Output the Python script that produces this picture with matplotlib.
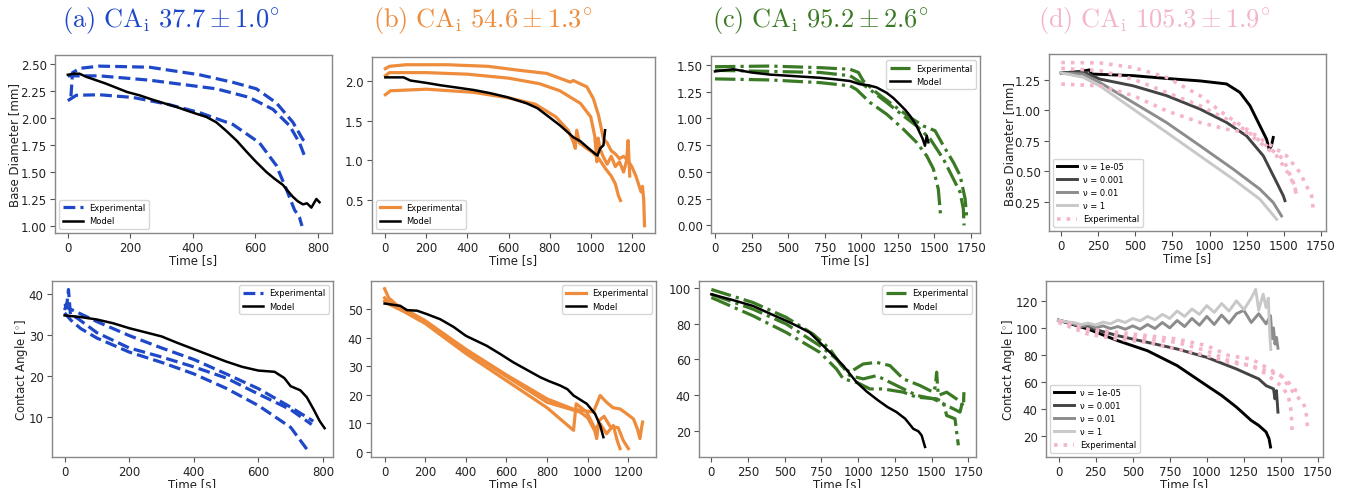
import matplotlib
matplotlib.use("Agg")
import matplotlib.pyplot as plt

plt.rcParams['mathtext.fontset'] = 'cm'
plt.rcParams['font.family'] = ['DejaVu Sans']

# ---- colours per panel
blue = '#1f48c8'
orange = '#ee8c3b'
green = '#3b7a25'
pink = '#f4b5c8'

titles = [r"$\mathrm{(a)\ CA_{i}\ 37.7 \pm 1.0^{\circ}}$",
          r"$\mathrm{(b)\ CA_{i}\ 54.6 \pm 1.3^{\circ}}$",
          r"$\mathrm{(c)\ CA_{i}\ 95.2 \pm 2.6^{\circ}}$",
          r"$\mathrm{(d)\ CA_{i}\ 105.3 \pm 1.9^{\circ}}$"]
title_colors = [blue, orange, green, pink]

# ---- (a) base diameter
a_t_exp1 = [10, 15, 40, 101, 261, 421, 528, 603, 667, 720, 752, 768]
a_d_exp1 = [2.20, 2.42, 2.46, 2.48, 2.47, 2.40, 2.33, 2.27, 2.14, 1.96, 1.80, 1.76]
a_t_exp2 = [0, 101, 261, 368, 475, 581, 656, 709, 741, 757]
a_d_exp2 = [2.39, 2.39, 2.35, 2.31, 2.27, 2.19, 2.08, 1.93, 1.77, 1.65]
a_t_exp3 = [0, 27, 101, 208, 315, 421, 528, 613, 667, 699, 725, 741, 749]
a_d_exp3 = [2.16, 2.21, 2.215, 2.19, 2.13, 2.05, 1.94, 1.77, 1.56, 1.34, 1.15, 1.08, 1.00]
a_t_model = [0, 20, 37, 60, 80, 120, 155, 190, 229, 270, 315, 350, 379, 410, 443, 475, 507, 540, 571, 600,
             635, 660, 688, 705, 720, 735, 752, 765, 779, 795, 805]
a_d_model = [2.40, 2.41, 2.41, 2.38, 2.36, 2.32, 2.28, 2.24, 2.21, 2.17, 2.13, 2.10, 2.07, 2.04, 2.01, 1.96,
             1.88, 1.79, 1.69, 1.60, 1.50, 1.44, 1.38, 1.32, 1.27, 1.23, 1.20, 1.21, 1.17, 1.25, 1.22]

# ---- (a) contact angle
a_t_ca1 = [0, 10, 30, 100, 200, 300, 400, 500, 600, 700, 770]
a_ca1 = [37.5, 36.5, 35.8, 33.2, 29.8, 26.8, 24.0, 20.5, 16.9, 12.4, 9.0]
a_t_ca2 = [0, 8, 12, 18, 40, 100, 200, 300, 400, 500, 600, 700, 765]
a_ca2 = [36, 38, 41, 35, 34, 30.5, 26.8, 24.6, 22.2, 19.5, 15.6, 11.8, 8.2]
a_t_ca3 = [0, 20, 50, 100, 200, 300, 400, 500, 600, 700, 750]
a_ca3 = [35.3, 33.5, 31.5, 29.2, 25.8, 23.3, 20.5, 17.0, 12.8, 7.5, 2.2]
a_t_cam = [0, 50, 100, 150, 200, 250, 300, 350, 400, 450, 500, 550, 600, 650, 680, 700, 730, 750, 770, 790, 805]
a_cam = [34.7, 34.3, 33.7, 32.8, 31.6, 30.6, 29.6, 28.0, 26.5, 25.0, 23.5, 22.2, 21.3, 21.0, 19.5, 17.5, 16.5, 14.8, 12.0, 9.0, 7.3]

# ---- (b) base diameter
b_t_exp1 = [0, 20, 100, 300, 500, 650, 786, 900, 915, 981, 1013, 1038, 1062, 1080, 1100, 1120, 1140, 1160, 1180, 1200, 1220, 1235, 1245, 1252, 1258, 1262]
b_d_exp1 = [2.16, 2.19, 2.21, 2.21, 2.19, 2.14, 2.10, 1.99, 2.01, 1.93, 1.78, 1.57, 1.27, 1.22, 1.12, 1.08, 1.02, 1.05, 1.00, 0.92, 0.80, 0.68, 0.60, 0.67, 0.50, 0.17]
b_t_exp2 = [0, 20, 200, 400, 600, 750, 850, 950, 1000, 1020, 1030, 1036, 1045, 1060, 1080, 1100, 1120, 1140, 1160, 1175, 1182, 1190]
b_d_exp2 = [2.07, 2.11, 2.11, 2.09, 2.04, 1.97, 1.88, 1.72, 1.55, 1.30, 0.98, 1.28, 1.15, 1.05, 0.95, 1.05, 0.92, 0.98, 0.85, 1.00, 1.25, 0.80]
b_t_exp3 = [0, 25, 200, 430, 600, 730, 830, 890, 916, 925, 932, 945, 980, 1010, 1040, 1070, 1100, 1120, 1135, 1145]
b_d_exp3 = [1.83, 1.88, 1.90, 1.86, 1.79, 1.71, 1.55, 1.38, 1.23, 1.15, 1.38, 1.22, 1.15, 1.10, 1.02, 0.90, 0.80, 0.70, 0.55, 0.49]
b_t_model = [0, 89, 122, 200, 268, 350, 430, 510, 592, 640, 689, 740, 786, 851, 916, 950, 981, 1022, 1033, 1046, 1062, 1070]
b_d_model = [2.05, 2.05, 2.01, 1.98, 1.95, 1.92, 1.89, 1.85, 1.80, 1.76, 1.72, 1.66, 1.57, 1.44, 1.29, 1.24, 1.17, 1.08, 1.06, 1.15, 1.19, 1.38]

# ---- (b) contact angle
b_t_ca1 = [0, 20, 60, 100, 200, 400, 600, 800, 930, 1028, 1061, 1093, 1125, 1159, 1190, 1225, 1245, 1257, 1265, 1270]
b_ca1 = [57.2, 54, 51.5, 50, 46, 36, 27, 18.6, 15, 14, 19.8, 17.4, 15.5, 15.1, 13.5, 11.6, 8, 4.7, 8.5, 10.5]
b_t_ca2 = [0, 30, 100, 200, 400, 600, 800, 962, 1000, 1030, 1061, 1093, 1126, 1145, 1159]
b_ca2 = [54, 52, 49.5, 45.5, 35.5, 26.5, 17.4, 14, 12, 8, 9.9, 6.4, 9.3, 4, 1.2]
b_t_ca3 = [0, 30, 100, 200, 400, 600, 800, 930, 943, 995, 1028, 1044, 1055, 1080, 1110, 1150, 1175, 1200]
b_ca3 = [52.9, 51.5, 49, 45, 34.5, 25, 15.5, 7.6, 16.9, 14, 9.3, 4.7, 11, 12.5, 9, 8.5, 4, 1.2]
b_t_cam = [0, 77, 110, 160, 208, 274, 340, 400, 450, 503, 570, 634, 700, 766, 810, 864, 900, 930, 995, 1036, 1061, 1077]
b_cam = [52, 51.2, 49.7, 49.5, 48.3, 46.5, 43.8, 40.7, 39.0, 37.2, 34.3, 31.4, 28.8, 26.2, 24.8, 23.3, 22.0, 19.8, 16.9, 13.4, 9.3, 5.2]

# ---- (c) base diameter
c_t_exp1 = [0, 376, 718, 923, 980, 1014, 1105, 1242, 1333, 1424, 1504, 1561, 1629, 1675, 1709, 1720]
c_d_exp1 = [1.484, 1.49, 1.475, 1.46, 1.43, 1.35, 1.24, 1.10, 1.01, 0.93, 0.885, 0.745, 0.59, 0.466, 0.25, 0.08]
c_t_exp2 = [0, 376, 718, 923, 991, 1059, 1173, 1287, 1378, 1470, 1561, 1629, 1675, 1697, 1702]
c_d_exp2 = [1.45, 1.44, 1.43, 1.40, 1.34, 1.27, 1.15, 1.025, 0.93, 0.81, 0.62, 0.435, 0.31, 0.155, 0.0]
c_t_exp3 = [0, 376, 718, 923, 968, 1059, 1173, 1287, 1378, 1447, 1492, 1526, 1542]
c_d_exp3 = [1.37, 1.36, 1.335, 1.305, 1.27, 1.15, 1.04, 0.90, 0.776, 0.65, 0.53, 0.34, 0.09]
c_t_model = [0, 125, 250, 376, 550, 718, 830, 923, 991, 1050, 1105, 1173, 1220, 1264, 1300, 1333, 1378, 1419, 1435, 1447, 1458]
c_d_model = [1.44, 1.46, 1.43, 1.41, 1.395, 1.38, 1.365, 1.35, 1.32, 1.31, 1.29, 1.24, 1.19, 1.13, 1.08, 1.025, 0.93, 0.81, 0.745, 0.84, 0.777]

# ---- (c) contact angle
c_t_ca1 = [0, 284, 511, 693, 807, 886, 943, 1034, 1125, 1216, 1307, 1420, 1511, 1525, 1534, 1545, 1602, 1670, 1716, 1720]
c_ca1 = [99, 91.7, 83.4, 74.1, 65.8, 56.6, 52.9, 57.5, 58.4, 56.6, 49.2, 45.5, 41.8, 45, 52.9, 40, 41.8, 38, 34.4, 41.8]
c_t_ca2 = [0, 284, 511, 738, 852, 943, 1034, 1125, 1261, 1398, 1511, 1602, 1693, 1716, 1722]
c_ca2 = [96.3, 88, 79.7, 67.7, 60.3, 51, 49.2, 51, 45.5, 40, 38.1, 34.4, 30.7, 38.1, 34]
c_t_ca3 = [0, 284, 511, 738, 852, 898, 989, 1080, 1170, 1307, 1398, 1534, 1580, 1602, 1659, 1670, 1682]
c_ca3 = [94.5, 84.3, 75, 64, 54.7, 49.2, 47.3, 43.6, 43.6, 41.8, 39, 38.1, 36.2, 28.8, 27, 19.6, 12.2]
c_t_cam = [0, 150, 284, 400, 511, 600, 670, 773, 840, 898, 989, 1060, 1136, 1200, 1261, 1320, 1375, 1410, 1432, 1455]
c_cam = [96.3, 93.0, 89.8, 85.5, 81.5, 78.0, 75, 66.7, 61.5, 56.6, 47.3, 42.0, 37.2, 33.5, 30.7, 27.0, 21.4, 20.0, 17.7, 11.3]

# ---- (d) base diameter, model for several nu
nu_labels = ['ν = 1e-05', 'ν = 0.001', 'ν = 0.01', 'ν = 1']
nu_colors = ['#000000', '#444444', '#8c8c8c', '#c8c8c8']
d_t_nu1 = [0, 124, 191, 203, 484, 709, 935, 1115, 1205, 1273, 1340, 1385, 1403, 1418, 1430]
d_d_nu1 = [1.305, 1.316, 1.33, 1.296, 1.283, 1.26, 1.24, 1.215, 1.146, 1.037, 0.873, 0.763, 0.68, 0.71, 0.777]
d_t_nu2 = [0, 146, 259, 484, 709, 935, 1115, 1250, 1363, 1453, 1498, 1509]
d_d_nu2 = [1.305, 1.316, 1.255, 1.20, 1.12, 1.01, 0.90, 0.79, 0.627, 0.41, 0.30, 0.26]
d_t_nu3 = [0, 146, 259, 484, 709, 935, 1160, 1340, 1430, 1486]
d_d_nu3 = [1.305, 1.296, 1.228, 1.064, 0.90, 0.71, 0.518, 0.354, 0.245, 0.135]
d_t_nu4 = [0, 146, 259, 484, 709, 935, 1160, 1340, 1453]
d_d_nu4 = [1.305, 1.27, 1.20, 1.01, 0.82, 0.627, 0.436, 0.272, 0.108]
d_t_exp1 = [0, 259, 484, 709, 935, 1115, 1250, 1385, 1520, 1610, 1655, 1689, 1700]
d_d_exp1 = [1.39, 1.387, 1.35, 1.27, 1.12, 0.955, 0.845, 0.736, 0.627, 0.49, 0.38, 0.30, 0.19]
d_t_exp2 = [0, 259, 484, 709, 935, 1115, 1250, 1385, 1498, 1565, 1588, 1595]
d_d_exp2 = [1.343, 1.324, 1.255, 1.146, 1.037, 0.928, 0.832, 0.709, 0.60, 0.41, 0.30, 0.33]
d_t_exp3 = [0, 259, 484, 709, 935, 1115, 1250, 1340, 1453, 1543, 1588, 1600]
d_d_exp3 = [1.214, 1.20, 1.12, 0.996, 0.90, 0.845, 0.818, 0.736, 0.627, 0.463, 0.326, 0.30]

# ---- (d) contact angle
d_t_ca_nu1 = [0, 200, 400, 600, 800, 1000, 1100, 1200, 1300, 1350, 1400, 1420, 1430]
d_ca_nu1 = [105.7, 99.1, 90.5, 83.1, 72.1, 57.3, 50, 41.4, 31.5, 27.9, 23, 18, 11.9]
d_t_ca_nu2 = [0, 200, 400, 600, 800, 1000, 1200, 1300, 1350, 1400, 1450, 1460, 1470, 1480]
d_ca_nu2 = [105.7, 100.3, 94.2, 89.3, 84.4, 78.2, 69.6, 64.7, 62.3, 57.3, 54.9, 47.5, 53.6, 37.7]
d_t_ca_nu3 = [0, 50, 100, 150, 200, 250, 300, 350, 400, 450, 500, 550, 600, 650, 700, 750, 800, 850, 900, 950,
              1000, 1050, 1100, 1150, 1200, 1250, 1300, 1350, 1400, 1430, 1440, 1450, 1460, 1470, 1480]
d_ca_nu3 = [105.7, 104.5, 103.0, 101.0, 102.5, 100.0, 101.5, 99.5, 101.0, 99.0, 101.5, 99.0, 102.5, 99.5, 104.0,
            100.0, 105.5, 101.0, 107.0, 102.0, 108.5, 102.5, 109.5, 103.5, 110.5, 113.0, 104.0, 110.5, 103.0,
            109.0, 92.0, 100.0, 88.0, 93.0, 85.0]
d_t_ca_nu4 = [0, 50, 100, 150, 200, 250, 300, 350, 400, 450, 500, 550, 600, 650, 700, 750, 800, 850, 900, 950,
              1000, 1050, 1100, 1150, 1200, 1250, 1300, 1330, 1350, 1380, 1400, 1415, 1425, 1432]
d_ca_nu4 = [105.7, 104.5, 104.0, 102.5, 103.5, 102.2, 104.3, 103.0, 105.8, 104.0, 107.0, 105.2, 108.5, 106.0,
            110.0, 107.0, 112.5, 108.5, 114.0, 110.0, 116.5, 111.5, 118.0, 112.5, 120.0, 113.5, 122.0, 128.5,
            113.0, 125.0, 115.0, 122.0, 95.0, 84.0]
d_t_ca_exp1 = [0, 200, 400, 600, 800, 1000, 1150, 1300, 1400, 1500, 1550, 1600, 1650, 1670, 1680]
d_ca_exp1 = [105.3, 99, 96.7, 94.2, 91.7, 86.8, 79.5, 77, 70.9, 64.7, 57.3, 50, 45.1, 37.7, 25.4]
d_t_ca_exp2 = [0, 200, 400, 600, 800, 1000, 1150, 1300, 1400, 1500, 1550, 1600, 1640]
d_ca_exp2 = [105, 97.9, 94.2, 91.7, 89.3, 83.1, 75.8, 72.1, 68.4, 64.7, 59.8, 53.7, 52.4]
d_t_ca_exp3 = [0, 200, 400, 600, 800, 1000, 1150, 1300, 1400, 1500, 1550, 1570, 1575]
d_ca_exp3 = [104, 95.4, 91.7, 89.3, 84.4, 79.5, 74.5, 72.1, 66, 57.3, 50, 37.7, 24]

# ---- layout (pixel boxes left, top, right, bottom in a 1351x489 canvas)
W, H = 1351, 489
boxes = {
    'a1': (55, 56, 332, 234), 'a2': (52, 282, 333, 458),
    'b1': (372, 58, 655, 234), 'b2': (371, 282, 656, 458),
    'c1': (711, 57, 980, 234), 'c2': (699, 282, 976, 458),
    'd1': (1049, 55, 1326, 232), 'd2': (1046, 282, 1323, 458),
}
FS = 8.5

fig = plt.figure(figsize=(W / 100, H / 100), dpi=100)


def make_ax(key):
    l, t, r, b = boxes[key]
    ax = fig.add_axes([l / W, 1 - b / H, (r - l) / W, (b - t) / H])
    for s in ax.spines.values():
        s.set_color('#888888')
        s.set_linewidth(1.0)
    ax.tick_params(labelsize=FS, labelcolor='#222222', color='#555555', length=3.5, width=0.8, pad=2.5)
    ax.set_xlabel('Time [s]', fontsize=FS, labelpad=-1, color='#222222')
    return ax


lw_e = 2.3
lw_m = 1.8

# (a)
ax = make_ax('a1')
ax.plot(a_t_exp1, a_d_exp1, '--', color=blue, lw=lw_e, label='Experimental')
ax.plot(a_t_exp2, a_d_exp2, '--', color=blue, lw=lw_e)
ax.plot(a_t_exp3, a_d_exp3, '--', color=blue, lw=lw_e)
ax.plot(a_t_model, a_d_model, '-', color='k', lw=lw_m, label='Model')
ax.set_xlim(-41, 845)
ax.set_ylim(0.935, 2.583)
ax.set_xticks([0, 200, 400, 600, 800])
ax.set_yticks([1.00, 1.25, 1.50, 1.75, 2.00, 2.25, 2.50])
ax.set_ylabel('Base Diameter [mm]', fontsize=FS, color='#222222', labelpad=0)
ax.legend(loc='lower left', fontsize=6, handlelength=2.4)

ax = make_ax('a2')
ax.plot(a_t_ca1, a_ca1, '--', color=blue, lw=lw_e, label='Experimental')
ax.plot(a_t_ca2, a_ca2, '--', color=blue, lw=lw_e)
ax.plot(a_t_ca3, a_ca3, '--', color=blue, lw=lw_e)
ax.plot(a_t_cam, a_cam, '-', color='k', lw=lw_m, label='Model')
ax.set_xlim(-39, 831)
ax.set_ylim(0.3, 43.06)
ax.set_xticks([0, 200, 400, 600, 800])
ax.set_yticks([10, 20, 30, 40])
ax.set_ylabel(r'Contact Angle [$^{\circ}$]', fontsize=FS, color='#222222', labelpad=-1)
ax.legend(loc='upper right', fontsize=6, handlelength=2.4)

# (b)
ax = make_ax('b1')
ax.plot(b_t_exp1, b_d_exp1, '-', color=orange, lw=lw_e, label='Experimental')
ax.plot(b_t_exp2, b_d_exp2, '-', color=orange, lw=lw_e)
ax.plot(b_t_exp3, b_d_exp3, '-', color=orange, lw=lw_e)
ax.plot(b_t_model, b_d_model, '-', color='k', lw=lw_m, label='Model')
ax.set_xlim(-65, 1313)
ax.set_ylim(0.078, 2.308)
ax.set_xticks([0, 200, 400, 600, 800, 1000, 1200])
ax.set_yticks([0.5, 1.0, 1.5, 2.0])
ax.legend(loc='lower left', fontsize=6, handlelength=2.4)

ax = make_ax('b2')
ax.plot(b_t_ca1, b_ca1, '-', color=orange, lw=lw_e, label='Experimental')
ax.plot(b_t_ca2, b_ca2, '-', color=orange, lw=lw_e)
ax.plot(b_t_ca3, b_ca3, '-', color=orange, lw=lw_e)
ax.plot(b_t_cam, b_cam, '-', color='k', lw=lw_m, label='Model')
ax.set_xlim(-67, 1336)
ax.set_ylim(-1.74, 59.9)
ax.set_xticks([0, 200, 400, 600, 800, 1000, 1200])
ax.set_yticks([0, 10, 20, 30, 40, 50])
ax.legend(loc='upper right', fontsize=6, handlelength=2.4)

# (c)
ax = make_ax('c1')
ax.plot(c_t_exp1, c_d_exp1, '-.', color=green, lw=lw_e, label='Experimental')
ax.plot(c_t_exp2, c_d_exp2, '-.', color=green, lw=lw_e)
ax.plot(c_t_exp3, c_d_exp3, '-.', color=green, lw=lw_e)
ax.plot(c_t_model, c_d_model, '-', color='k', lw=lw_m, label='Model')
ax.set_xlim(-27, 1811)
ax.set_ylim(-0.071, 1.584)
ax.set_xticks([0, 250, 500, 750, 1000, 1250, 1500, 1750])
ax.set_yticks([0.0, 0.25, 0.5, 0.75, 1.0, 1.25, 1.5])
ax.yaxis.set_major_formatter(matplotlib.ticker.FormatStrFormatter('%.2f'))
ax.legend(loc='upper right', fontsize=6, handlelength=2.4)

ax = make_ax('c2')
ax.plot(c_t_ca1, c_ca1, '-.', color=green, lw=lw_e, label='Experimental')
ax.plot(c_t_ca2, c_ca2, '-.', color=green, lw=lw_e)
ax.plot(c_t_ca3, c_ca3, '-.', color=green, lw=lw_e)
ax.plot(c_t_cam, c_cam, '-', color='k', lw=lw_m, label='Model')
ax.set_xlim(-84, 1802)
ax.set_ylim(5.7, 103.7)
ax.set_xticks([0, 250, 500, 750, 1000, 1250, 1500, 1750])
ax.set_yticks([20, 40, 60, 80, 100])
ax.legend(loc='upper right', fontsize=6, handlelength=2.4)

# (d)
ax = make_ax('d1')
d_nu_t = [d_t_nu1, d_t_nu2, d_t_nu3, d_t_nu4]
d_nu_d = [d_d_nu1, d_d_nu2, d_d_nu3, d_d_nu4]
for tt, dd, lab, col in zip(d_nu_t, d_nu_d, nu_labels, nu_colors):
    ax.plot(tt, dd, '-', color=col, lw=lw_m + 0.3, label=lab)
ax.plot(d_t_exp1, d_d_exp1, ':', color=pink, lw=2.6, label='Experimental')
ax.plot(d_t_exp2, d_d_exp2, ':', color=pink, lw=2.6)
ax.plot(d_t_exp3, d_d_exp3, ':', color=pink, lw=2.6)
ax.set_xlim(-83, 1786)
ax.set_ylim(0.012, 1.46)
ax.set_xticks([0, 250, 500, 750, 1000, 1250, 1500, 1750])
ax.set_yticks([0.25, 0.5, 0.75, 1.0, 1.25])
ax.yaxis.set_major_formatter(matplotlib.ticker.FormatStrFormatter('%.2f'))
ax.set_ylabel('Base Diameter [mm]', fontsize=FS, color='#222222', labelpad=-1)
ax.legend(loc='lower left', fontsize=6, handlelength=2.4)

ax = make_ax('d2')
d_ca_t = [d_t_ca_nu1, d_t_ca_nu2, d_t_ca_nu3, d_t_ca_nu4]
d_ca_v = [d_ca_nu1, d_ca_nu2, d_ca_nu3, d_ca_nu4]
for tt, vv, lab, col in zip(d_ca_t, d_ca_v, nu_labels, nu_colors):
    ax.plot(tt, vv, '-', color=col, lw=lw_m + 0.3, label=lab)
ax.plot(d_t_ca_exp1, d_ca_exp1, ':', color=pink, lw=2.6, label='Experimental')
ax.plot(d_t_ca_exp2, d_ca_exp2, ':', color=pink, lw=2.6)
ax.plot(d_t_ca_exp3, d_ca_exp3, ':', color=pink, lw=2.6)
ax.set_xlim(-85, 1784)
ax.set_ylim(4.5, 134.7)
ax.set_xticks([0, 250, 500, 750, 1000, 1250, 1500, 1750])
ax.set_yticks([20, 40, 60, 80, 100, 120])
ax.set_ylabel(r'Contact Angle [$^{\circ}$]', fontsize=FS, color='#222222', labelpad=-1)
ax.legend(loc='lower left', fontsize=6, handlelength=2.4)

# panel titles
title_x = [62, 373, 712, 1038]
for tx, txt, col in zip(title_x, titles, title_colors):
    fig.text(tx / W, 1 - 20 / H, txt, color=col, fontsize=19, ha='left', va='center')

plt.savefig('out.png', dpi=100)
